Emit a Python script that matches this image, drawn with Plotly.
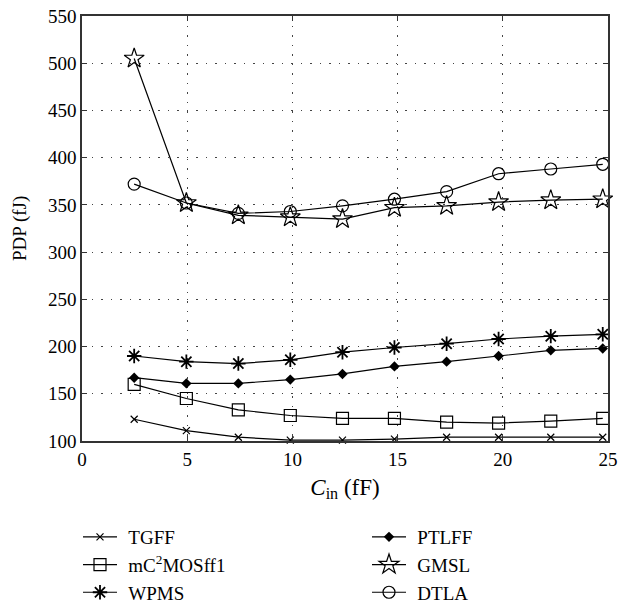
import plotly.graph_objects as go

cin = [2.48, 4.96, 7.43, 9.9, 12.38, 14.85, 17.33, 19.8, 22.28, 24.75]
tgff = [123, 111, 104, 101, 101, 102, 104, 104, 104, 104]
mc2mos = [160, 145, 133, 127, 124, 124, 120, 119, 121, 124]
wpms = [190, 184, 182, 186, 194, 199, 203, 208, 211, 213]
ptlff = [167, 161, 161, 165, 171, 179, 184, 190, 196, 198]
gmsl = [505, 352, 339, 337, 335, 347, 349, 353, 355, 356]
dtla = [372, 352, 341, 343, 349, 356, 364, 383, 388, 393]

pad = "\u2004"
series = [
    ("TGFF", tgff, dict(symbol="x-thin-open", size=7, line=dict(width=1.2, color="black")), "legend"),
    ("mC<sup>2</sup>MOSff1", mc2mos, dict(symbol="square-open", size=12, line=dict(width=1.2, color="black")), "legend"),
    ("WPMS", wpms, dict(symbol="asterisk-open", size=12, line=dict(width=1.8, color="black")), "legend"),
    ("PTLFF", ptlff, dict(symbol="diamond", size=8, color="black"), "legend2"),
    ("GMSL", gmsl, dict(symbol="star-open", size=15, line=dict(width=1.2, color="black")), "legend2"),
    ("DTLA", dtla, dict(symbol="circle-open", size=12, line=dict(width=1.2, color="black")), "legend2"),
]

fig = go.Figure()
for name, ys, mk, lg in series:
    mk = dict(mk)
    mk.setdefault("color", "black")
    fig.add_trace(go.Scatter(
        x=cin, y=ys, name=pad + name, mode="lines+markers",
        line=dict(color="black", width=1.2), marker=mk,
        cliponaxis=False, legend=lg,
    ))

font = dict(family="Liberation Serif", size=19, color="black")
axis_common = dict(
    showgrid=True, gridcolor="#444", griddash="1.5px,8px", gridwidth=1,
    showline=True, linecolor="#333", linewidth=1.5, mirror="ticks",
    ticks="inside", ticklen=5, tickcolor="#333", zeroline=False,
    tickfont=font,
)
fig.update_layout(
    width=638, height=603,
    margin=dict(l=82, r=30, t=16, b=162, autoexpand=False),
    paper_bgcolor="white", plot_bgcolor="white",
    font=font,
    xaxis=dict(
        range=[0, 25], tickvals=[0, 5, 10, 15, 20, 25],
        title=dict(text="<i>C</i><sub>in</sub> (fF)", standoff=10),
        **axis_common,
    ),
    yaxis=dict(
        range=[100, 550], tickvals=list(range(100, 551, 50)),
        **axis_common,
    ),
    legend=dict(x=78 / 638, xref="container", y=(603 - 518) / 603, yref="container",
                xanchor="left", yanchor="top",
                orientation="v", font=font, bgcolor="rgba(0,0,0,0)", tracegroupgap=0,
                itemwidth=34),
    legend2=dict(x=367 / 638, xref="container", y=(603 - 518) / 603, yref="container",
                 xanchor="left", yanchor="top",
                 orientation="v", font=font, bgcolor="rgba(0,0,0,0)", tracegroupgap=0,
                 itemwidth=34),
    showlegend=True,
    annotations=[dict(
        text="PDP (fJ)", textangle=-90, x=20 / 638, y=(603 - 229) / 603,
        xref="paper", yref="paper", showarrow=False, font=font,
        xanchor="center", yanchor="middle",
    )],
)
# annotation positions are given in container pixels: convert to paper coords
pw, ph = 638 - 82 - 30, 603 - 16 - 162
fig.layout.annotations[0].x = (20 - 82) / pw
fig.layout.annotations[0].y = (603 - 162 - 229) / ph
fig.write_html("out.html")
